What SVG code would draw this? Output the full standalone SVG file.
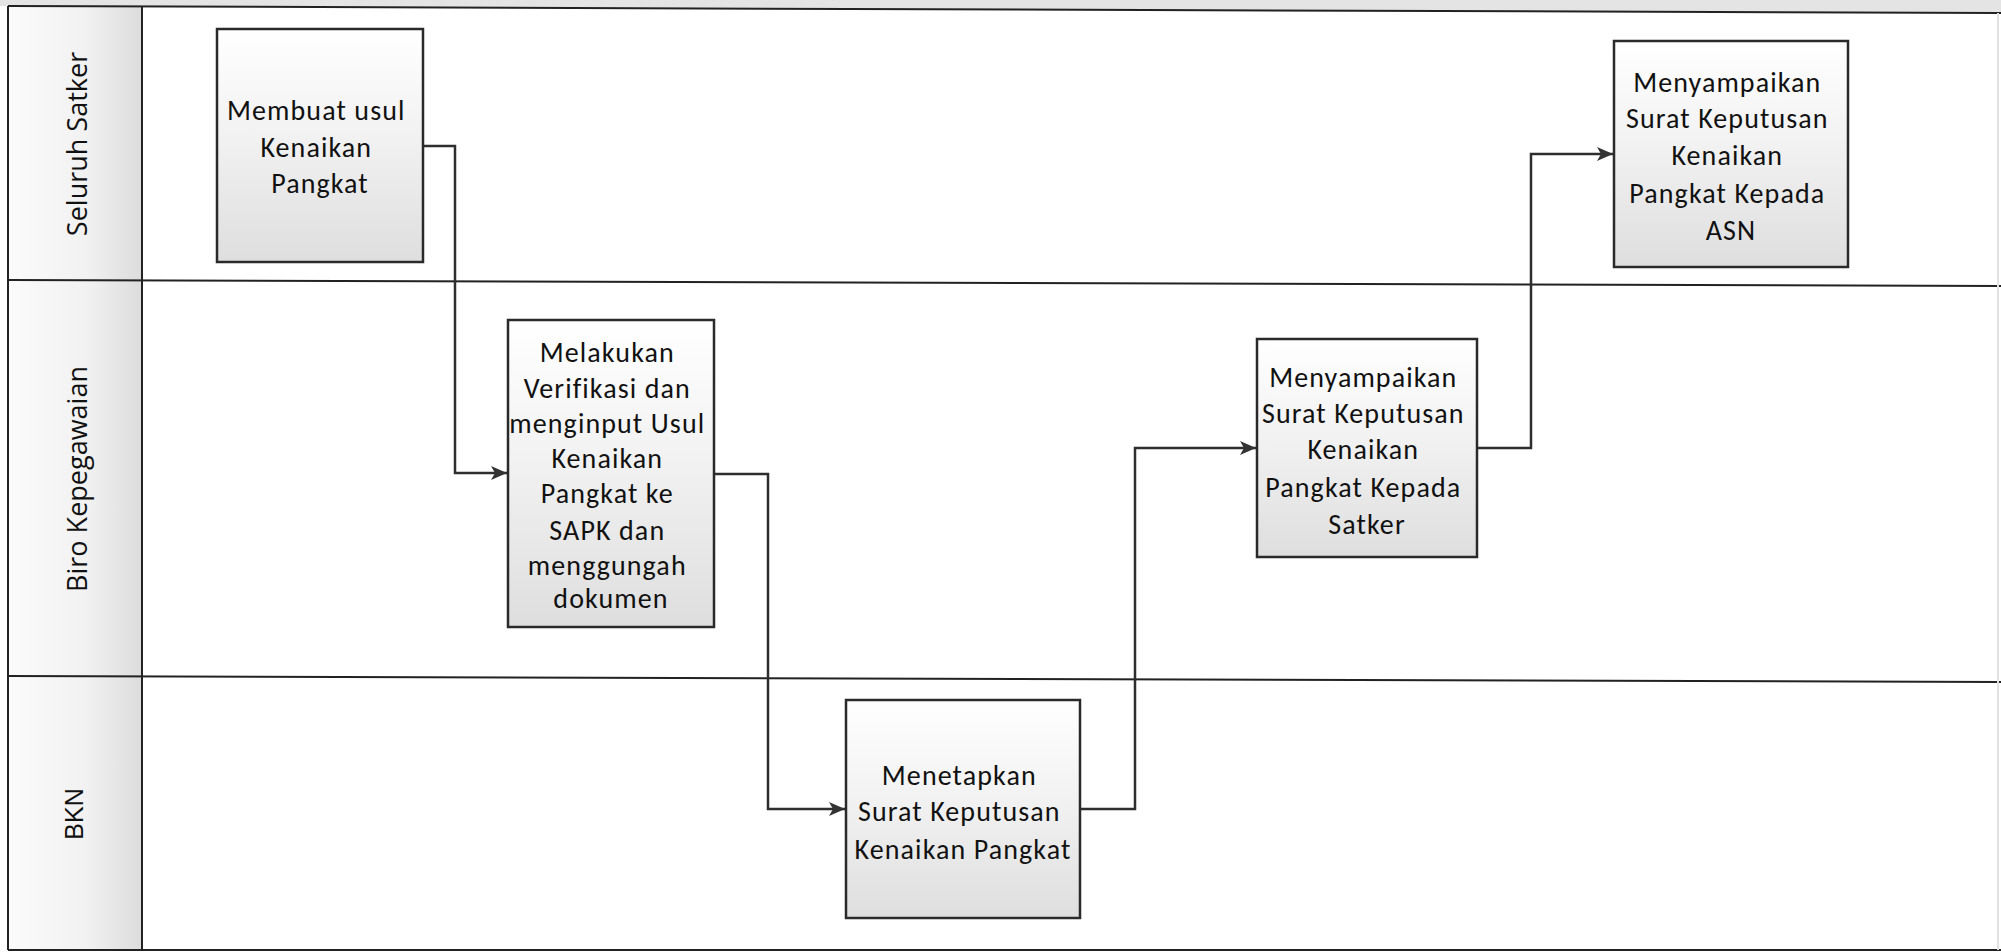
<svg xmlns="http://www.w3.org/2000/svg" width="2001" height="952" viewBox="0 0 2001 952">
  <defs>
    <linearGradient id="boxFill" x1="0" y1="0" x2="0" y2="1">
      <stop offset="0" stop-color="#ffffff"/>
      <stop offset="0.45" stop-color="#f2f2f2"/>
      <stop offset="1" stop-color="#dedede"/>
    </linearGradient>
    <linearGradient id="headFill" x1="0" y1="0" x2="1" y2="0">
      <stop offset="0" stop-color="#fbfbfb"/>
      <stop offset="0.6" stop-color="#f1f1f1"/>
      <stop offset="1" stop-color="#dcdcdc"/>
    </linearGradient>
    <marker id="arrow" markerUnits="userSpaceOnUse" markerWidth="16" markerHeight="14" refX="16" refY="7" orient="auto">
      <path d="M0,0 L16,7 L0,14 L4,7 z" fill="#333333"/>
    </marker>
    <style>
      .lane { fill: none; stroke: #222222; stroke-width: 2; }
      .box { fill: url(#boxFill); stroke: #2a2a2a; stroke-width: 2.5; }
      .btext { font-family: Carlito, Lato, "Liberation Sans", sans-serif; font-size: 28px; letter-spacing: 1.1px; fill: #111111; text-anchor: middle; }
      .ltext { font-family: "Open Sans", "DejaVu Sans", sans-serif; font-size: 27px; fill: #111111; text-anchor: middle; }
      .ltext2 { font-family: "Liberation Sans", Arial, sans-serif; font-size: 25px; fill: #111111; text-anchor: middle; }
      .conn { fill: none; stroke: #2e2e2e; stroke-width: 2.5; }
    </style>
  </defs>

  <rect x="0" y="0" width="2001" height="952" fill="#ffffff"/>
  <polygon points="0,0 2001,0 2001,13 0,6" fill="#e4e4e4"/>

  <g id="lanes">
    <rect x="8" y="6" width="134" height="944" fill="url(#headFill)"/>
    <line class="lane" x1="8" y1="6" x2="2001" y2="13"/>
    <line class="lane" x1="8" y1="280" x2="2001" y2="286"/>
    <line class="lane" x1="8" y1="676" x2="2001" y2="682"/>
    <line class="lane" x1="8" y1="950" x2="2001" y2="950"/>
    <line class="lane" x1="8" y1="6" x2="8" y2="950"/>
    <line class="lane" x1="142" y1="6" x2="142" y2="950"/>
    <line x1="1998" y1="13" x2="1998" y2="950" stroke="#e2e2e2" stroke-width="2"/>
  </g>

  <g id="lane-seluruh-satker">
    <text class="ltext" x="87" y="144" transform="rotate(-90 87 144)">Seluruh Satker</text>
  </g>
  <g id="lane-biro-kepegawaian">
    <text class="ltext" x="87" y="479" transform="rotate(-90 87 479)">Biro Kepegawaian</text>
  </g>
  <g id="lane-bkn">
    <text class="ltext2" x="83" y="814" transform="rotate(-90 83 814)">BKN</text>
  </g>

  <g id="connectors">
    <path class="conn" d="M423,146 H455 V473 H507" marker-end="url(#arrow)"/>
    <path class="conn" d="M714,474 H768 V809 H845" marker-end="url(#arrow)"/>
    <path class="conn" d="M1080,809 H1135 V448 H1256" marker-end="url(#arrow)"/>
    <path class="conn" d="M1477,448 H1531 V154 H1613" marker-end="url(#arrow)"/>
  </g>

  <g id="node-membuat-usul">
    <rect class="box" x="217" y="29" width="206" height="233"/>
    <text class="btext">
      <tspan x="320" y="120">Membuat usul</tspan>
      <tspan x="320" y="157">Kenaikan</tspan>
      <tspan x="320" y="193">Pangkat</tspan>
    </text>
  </g>

  <g id="node-melakukan-verifikasi">
    <rect class="box" x="508" y="320" width="206" height="307"/>
    <text class="btext">
      <tspan x="611" y="362">Melakukan</tspan>
      <tspan x="611" y="398">Verifikasi dan</tspan>
      <tspan x="611" y="433">menginput Usul</tspan>
      <tspan x="611" y="468">Kenaikan</tspan>
      <tspan x="611" y="503">Pangkat ke</tspan>
      <tspan x="611" y="540">SAPK dan</tspan>
      <tspan x="611" y="575">menggungah</tspan>
      <tspan x="611" y="608">dokumen</tspan>
    </text>
  </g>

  <g id="node-menetapkan">
    <rect class="box" x="846" y="700" width="234" height="218"/>
    <text class="btext">
      <tspan x="963" y="785">Menetapkan</tspan>
      <tspan x="963" y="821">Surat Keputusan</tspan>
      <tspan x="963" y="859">Kenaikan Pangkat</tspan>
    </text>
  </g>

  <g id="node-menyampaikan-satker">
    <rect class="box" x="1257" y="339" width="220" height="218"/>
    <text class="btext">
      <tspan x="1367" y="387">Menyampaikan</tspan>
      <tspan x="1367" y="423">Surat Keputusan</tspan>
      <tspan x="1367" y="459">Kenaikan</tspan>
      <tspan x="1367" y="497">Pangkat Kepada</tspan>
      <tspan x="1367" y="534">Satker</tspan>
    </text>
  </g>

  <g id="node-menyampaikan-asn">
    <rect class="box" x="1614" y="41" width="234" height="226"/>
    <text class="btext">
      <tspan x="1731" y="92">Menyampaikan</tspan>
      <tspan x="1731" y="128">Surat Keputusan</tspan>
      <tspan x="1731" y="165">Kenaikan</tspan>
      <tspan x="1731" y="203">Pangkat Kepada</tspan>
      <tspan x="1731" y="240">ASN</tspan>
    </text>
  </g>
</svg>
